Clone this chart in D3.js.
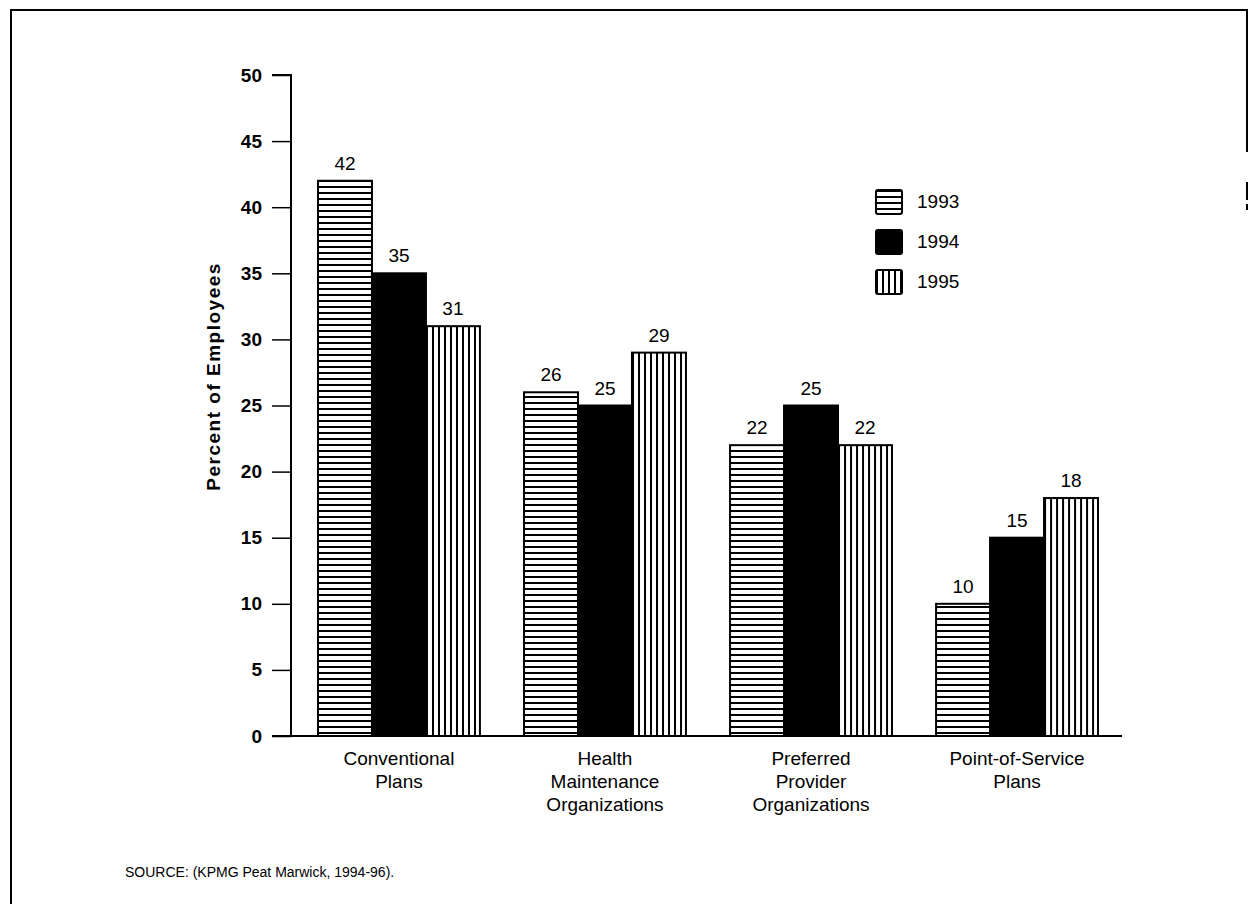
<!DOCTYPE html>
<html>
<head>
<meta charset="utf-8">
<script src="https://cdn.jsdelivr.net/npm/d3@7"></script>
<style>
  html, body { margin: 0; padding: 0; background: #fff; }
  svg { display: block; font-family: "Liberation Sans", Arial, Helvetica, sans-serif; }
</style>
</head>
<body>
<svg id="chart" width="1248" height="904"></svg>
<script>
// Plan types (multi-line labels) and enrollment share per year
const categories = [
  ["Conventional", "Plans"],
  ["Health", "Maintenance", "Organizations"],
  ["Preferred", "Provider", "Organizations"],
  ["Point-of-Service", "Plans"]
];
const years = ["1993", "1994", "1995"];
const values1993 = [42, 26, 22, 10];
const values1994 = [35, 25, 25, 15];
const values1995 = [31, 29, 22, 18];
const yTicks = [0, 5, 10, 15, 20, 25, 30, 35, 40, 45, 50];
const yTitle = "Percent of Employees";
const sourceNote = "SOURCE: (KPMG Peat Marwick, 1994-96).";

const series = [values1993, values1994, values1995];

const svg = d3.select("#chart");

// Fill patterns: horizontal hatching, solid, vertical hatching
const defs = svg.append("defs");
const hp = defs.append("pattern").attr("id", "hatchH")
  .attr("patternUnits", "userSpaceOnUse").attr("width", 6).attr("height", 6);
hp.append("rect").attr("width", 6).attr("height", 6).attr("fill", "#fff");
hp.append("rect").attr("x", 0).attr("y", 0).attr("width", 6).attr("height", 2).attr("fill", "#000");

const vp = defs.append("pattern").attr("id", "hatchV")
  .attr("patternUnits", "userSpaceOnUse").attr("width", 6).attr("height", 6);
vp.append("rect").attr("width", 6).attr("height", 6).attr("fill", "#fff");
vp.append("rect").attr("x", 0).attr("y", 0).attr("width", 2).attr("height", 6).attr("fill", "#000");

const fills = ["url(#hatchH)", "#000", "url(#hatchV)"];

// Page frame (left and top edges, short piece of the right edge)
svg.append("path")
  .attr("d", "M11,904 V10 H1247 V152 M1247,182 V200 M1247,204 V210")
  .attr("fill", "none").attr("stroke", "#000").attr("stroke-width", 2);

// Scales
const y = d3.scaleLinear().domain([0, 50]).range([736, 75]);
const x0 = d3.scaleBand()
  .domain(d3.range(categories.length))
  .range([291, 1125])
  .paddingInner(0.214)
  .paddingOuter(0.131);
const x1 = d3.scaleBand()
  .domain(d3.range(years.length))
  .range([0, x0.bandwidth()]);

// Y axis
const yAxis = d3.axisLeft(y).tickValues(yTicks).tickSize(19).tickPadding(10);
const gy = svg.append("g").attr("transform", "translate(291,0)").call(yAxis);
gy.select(".domain").attr("d", "M0," + y(0) + "V" + y(50) + "H-19")
  .attr("stroke-width", 2);
gy.selectAll(".tick line").attr("stroke-width", 1.5);
gy.selectAll(".tick text")
  .attr("font-size", 19).attr("font-weight", "bold").attr("fill", "#000")
  .attr("font-family", "'Liberation Sans', Arial, sans-serif");

// Baseline
svg.append("line")
  .attr("x1", 272).attr("x2", 1122)
  .attr("y1", y(0)).attr("y2", y(0))
  .attr("stroke", "#000").attr("stroke-width", 2);

// Y title
svg.append("text")
  .attr("transform", "translate(220," + y(27.2) + ") rotate(-90)")
  .attr("text-anchor", "middle")
  .attr("font-size", 19).attr("font-weight", "bold")
  .attr("letter-spacing", 1.5)
  .text(yTitle);

// Bars
const groups = svg.append("g").selectAll("g")
  .data(categories.map((c, i) => i))
  .join("g")
  .attr("transform", i => "translate(" + x0(i) + ",0)");

groups.selectAll("rect")
  .data(i => series.map((s, k) => ({ k, v: s[i] })))
  .join("rect")
  .attr("x", d => x1(d.k))
  .attr("y", d => y(d.v))
  .attr("width", x1.bandwidth())
  .attr("height", d => y(0) - y(d.v))
  .attr("fill", d => fills[d.k])
  .attr("stroke", "#000")
  .attr("stroke-width", 2);

// Value labels
groups.selectAll("text.val")
  .data(i => series.map((s, k) => ({ k, v: s[i] })))
  .join("text")
  .attr("class", "val")
  .attr("x", d => x1(d.k) + x1.bandwidth() / 2)
  .attr("y", d => y(d.v) - 11)
  .attr("text-anchor", "middle")
  .attr("font-size", 19)
  .text(d => d.v);

// Category labels
groups.append("text")
  .attr("text-anchor", "middle")
  .attr("font-size", 19)
  .selectAll("tspan")
  .data(i => categories[i].map(t => ({ t, w: x0.bandwidth() })))
  .join("tspan")
  .attr("x", d => d.w / 2)
  .attr("y", (d, j) => 765 + j * 23)
  .text(d => d.t);

// Legend
const legend = svg.append("g").attr("transform", "translate(876,190)");
const lg = legend.selectAll("g").data(years).join("g")
  .attr("transform", (d, i) => "translate(0," + (i * 40) + ")");
lg.append("rect")
  .attr("x", 0).attr("y", 0).attr("width", 26).attr("height", 24)
  .attr("rx", 2)
  .attr("fill", (d, i) => fills[i])
  .attr("stroke", "#000").attr("stroke-width", 2);
lg.append("text")
  .attr("x", 41).attr("y", 18)
  .attr("font-size", 19)
  .text(d => d);

// Source note
svg.append("text")
  .attr("x", 125).attr("y", 877)
  .attr("font-size", 14)
  .text(sourceNote);
</script>
</body>
</html>
